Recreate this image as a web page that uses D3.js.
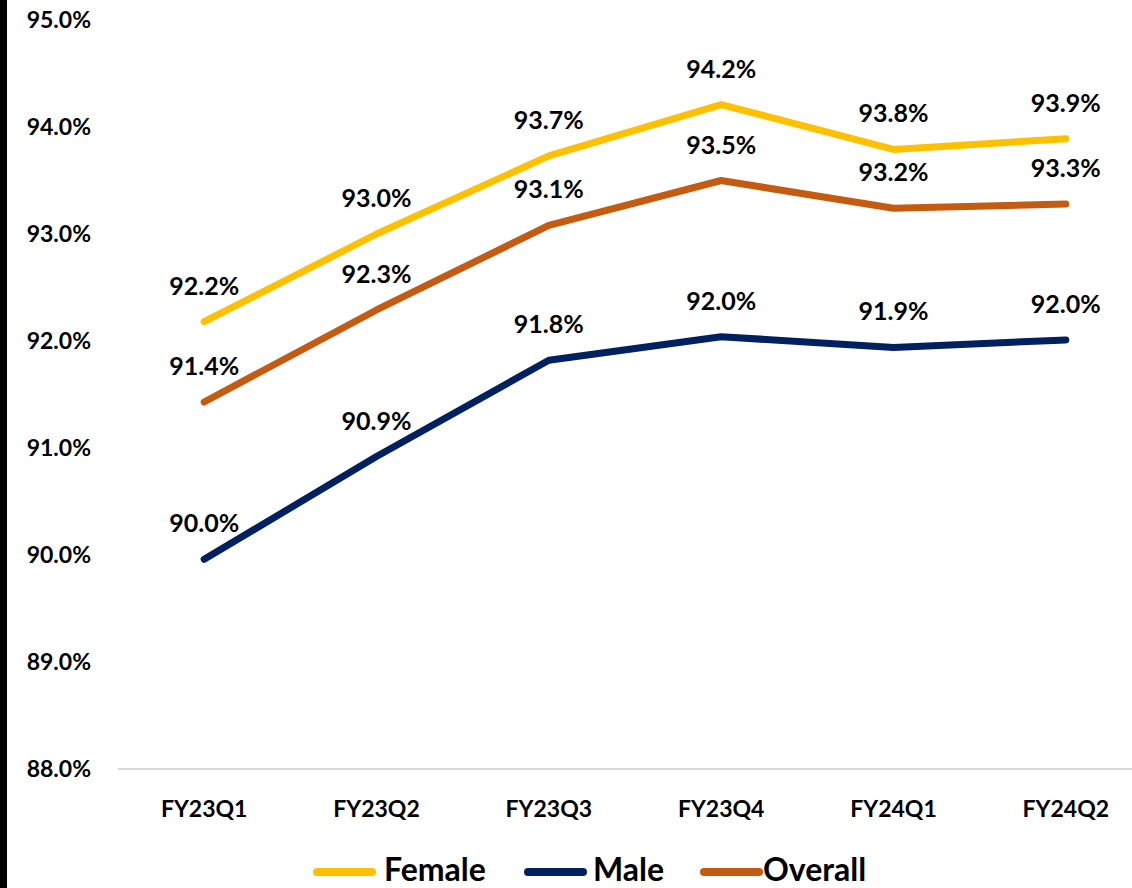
<!DOCTYPE html>
<html><head><meta charset="utf-8">
<script src="https://cdn.jsdelivr.net/npm/d3@7"></script>
<style>body{margin:0;background:#fff;} svg{display:block;font-family:Lato,"Open Sans",sans-serif;font-weight:bold;}</style>
</head><body><svg id="c" width="1132" height="888"></svg>
<script>
const categories = ["FY23Q1","FY23Q2","FY23Q3","FY23Q4","FY24Q1","FY24Q2"];
const female = [92.18, 93.0, 93.73, 94.21, 93.79, 93.89];
const male = [89.96, 90.92, 91.82, 92.04, 91.94, 92.01];
const overall = [91.43, 92.29, 93.08, 93.50, 93.24, 93.28];
const yTicks = [88,89,90,91,92,93,94,95];
const seriesNames = ["Female","Male","Overall"];
const colors = ["#FFC000","#002060","#C55A11"];
const seriesValues = [female, male, overall];

const svg = d3.select("#c");
const x = d3.scalePoint().domain(categories).range([118,1152]).padding(0.5);
const y = d3.scaleLinear().domain([88,95]).range([769,20]);

// left black bar
svg.append("rect").attr("x",0).attr("y",0).attr("width",7).attr("height",888).attr("fill","#000");

// baseline
svg.append("line").attr("x1",118).attr("x2",1132).attr("y1",y(88)).attr("y2",y(88))
  .attr("stroke","#d9d9d9").attr("stroke-width",2);

// y tick labels
svg.append("g").selectAll("text").data(yTicks).join("text")
  .attr("x",91).attr("y",d=>y(d)).attr("dy","0.36em").attr("text-anchor","end")
  .attr("font-size",23).attr("fill","#000").text(d=>d.toFixed(1)+"%");

// x labels
svg.append("g").selectAll("text").data(categories).join("text")
  .attr("x",d=>x(d)).attr("y",817).attr("text-anchor","middle")
  .attr("font-size",23).attr("fill","#000").text(d=>d);

const line = d3.line().x((d,i)=>x(categories[i])).y(d=>y(d));
seriesValues.forEach((vals,si)=>{
  svg.append("path").datum(vals).attr("d",line).attr("fill","none")
    .attr("stroke",colors[si]).attr("stroke-width",7).attr("stroke-linecap","round").attr("stroke-linejoin","round");
});
seriesValues.forEach((vals,si)=>{
  svg.append("g").selectAll("text").data(vals).join("text")
    .attr("x",(d,i)=>x(categories[i])).attr("y",d=>y(d)-27).attr("text-anchor","middle")
    .attr("font-size",25).attr("fill","#000").text(d=>d.toFixed(1)+"%");
});

// legend
const legendItems = [{lx:317,tx:384},{lx:528,tx:593},{lx:704,tx:763}];
seriesNames.forEach((n,i)=>{
  const it = legendItems[i];
  svg.append("line").attr("x1",it.lx).attr("x2",it.lx+55).attr("y1",872).attr("y2",872)
    .attr("stroke",colors[i]).attr("stroke-width",8).attr("stroke-linecap","round");
  svg.append("text").attr("x",it.tx).attr("y",881).attr("font-size",32).attr("fill","#000").text(n);
});
</script></body></html>
